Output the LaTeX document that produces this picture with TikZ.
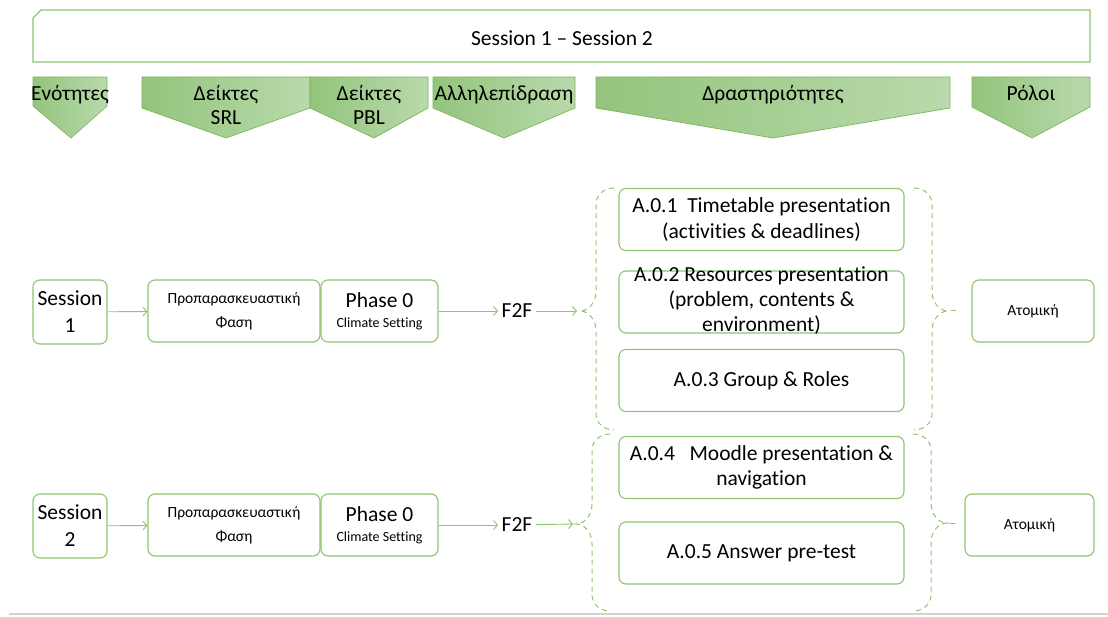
\documentclass[tikz,border=0pt]{standalone}
\usepackage{fontspec}
\setmainfont{Carlito}[Ligatures={NoCommon}]
\usetikzlibrary{arrows.meta}

\definecolor{edge}{HTML}{8CC56E}
\definecolor{hdrA}{HTML}{93C47D}
\definecolor{hdrB}{HTML}{B9DAAB}
\definecolor{hdrline}{HTML}{7DB55E}
\definecolor{rule}{HTML}{D2D2D2}

% header pentagon: x-left, x-right, y where the sides end, x of the tip, name, text
\newcommand\hdrshape[6]{%
  \path[draw=hdrline, line width=0.7pt, left color=hdrA, right color=hdrB]
    (#1,77) -- (#2,77) -- (#2,#3) -- (#4,138) -- (#1,#3) -- cycle;
  \node[hdrtext] (#5) at ({(#1+#2)/2},85) {#6};}

% dashed curly brace: spine x, side (1 = hooks to the right, -1 = hooks to the left),
% top y, tip y, bottom y
\newcommand\bracepath[5]{%
  \draw[brace] ({#1+#2*18},#3) .. controls ({#1+#2*8},#3) and (#1,{#3+7}) .. (#1,{#3+16})
    -- (#1,{#4-20}) .. controls (#1,{#4-9}) and ({#1-#2*7},#4) .. ({#1-#2*16},#4)
    .. controls ({#1-#2*7},#4) and (#1,{#4+9}) .. (#1,{#4+20})
    -- (#1,{#5-16}) .. controls (#1,{#5-7}) and ({#1+#2*8},#5) .. ({#1+#2*18},#5);}

% small caption font for the phase boxes
\newcommand\captionsize{\fontsize{14}{15}\selectfont}

\begin{document}
\begin{tikzpicture}[x=1pt, y=-1pt,
  font=\fontsize{21.5}{25}\selectfont,
  box/.style={draw=edge, line width=1.1pt, rounded corners=7pt, align=center, inner sep=0pt},
  hdrtext/.style={anchor=north, align=center, inner sep=0pt, font=\fontsize{21.5}{24}\selectfont},
  smalltext/.style={font=\fontsize{15.5}{24}\selectfont},
  link/.style={draw=edge, line width=0.9pt, -{Straight Barb[length=4pt,width=9pt]}},
  brace/.style={draw=edge, line width=1pt, dash pattern=on 5pt off 4pt}]
\useasboundingbox (0,0) rectangle (1108,617);

% title bar
\draw[edge, line width=1.1pt] (33,18) -- (41,10) -- (1090,10) -- (1090,62) -- (33,62) -- cycle;
\node (title) at (562,38) {Session 1 – Session 2};

% column headers
\hdrshape{33}{107}{106}{71}{hunits}{Ενότητες}
\hdrshape{142}{310}{108}{226}{hsrl}{Δείκτες\\SRL}
\hdrshape{310}{428}{108}{374}{hpbl}{Δείκτες\\PBL}
\hdrshape{433}{575}{108}{504}{hinter}{Αλληλεπίδραση}
\hdrshape{596}{950}{108}{773}{hacts}{Δραστηριότητες}
\hdrshape{972}{1090}{107}{1032}{hroles}{Ρόλοι}

% session 1
\node[box, minimum width=74pt, minimum height=64pt, font=\fontsize{21.5}{27}\selectfont] (s1) at (70,312) {Session\\1};
\node[box, minimum width=172pt, minimum height=62pt, smalltext] (p1) at (234,311) {Προπαρασκευαστική\\Φαση};
\node[box, minimum width=117pt, minimum height=62pt] (ph1) at (379.5,311) {Phase 0\\[-5pt]{\captionsize Climate Setting}};
\node (f1) at (517,311) {F2F};
\coordinate (bl1) at (577,311);

% session 2
\node[box, minimum width=74pt, minimum height=64pt, font=\fontsize{21.5}{27}\selectfont] (s2) at (70,526) {Session\\2};
\node[box, minimum width=172pt, minimum height=62pt, smalltext] (p2) at (234,525) {Προπαρασκευαστική\\Φαση};
\node[box, minimum width=117pt, minimum height=62pt] (ph2) at (379.5,525) {Phase 0\\[-5pt]{\captionsize Climate Setting}};
\node (f2) at (517,525) {F2F};
\coordinate (bl2) at (573,524);

% activities
\node[box, minimum width=285pt, minimum height=62pt, font=\fontsize{21.5}{26}\selectfont] (a1) at (761.5,219.5) {A.0.1\ \ Timetable presentation\\(activities \& deadlines)};
\node[box, minimum width=285pt, minimum height=62pt] (a2) at (761.5,302) {};
\node[align=center, inner sep=0pt] (a2t) at (761.5,301) {A.0.2 Resources presentation\\(problem, contents \&\\environment)};
\node[box, minimum width=285pt, minimum height=62pt] (a3) at (761.5,380.5) {A.0.3 Group \& Roles};
\node[box, minimum width=285pt, minimum height=62pt] (a4) at (761.5,467.5) {A.0.4\ \ \ Moodle presentation \&\\navigation};
\node[box, minimum width=285pt, minimum height=62pt] (a5) at (761.5,553) {A.0.5 Answer pre-test};

% roles
\node[box, minimum width=122pt, minimum height=62pt, smalltext] (r1) at (1033,311) {Ατομική};
\node[box, minimum width=129pt, minimum height=62pt, smalltext] (r2) at (1029.5,525) {Ατομική};

% connectors
\draw[link] (s1) -- (p1);
\draw[link] (ph1) -- (f1);
\draw[link] (f1) -- (bl1);
\draw[link] (s2) -- (p2);
\draw[link] (ph2) -- (f2);
\draw[link] (f2) -- (bl2);

% braces around the activity groups
\bracepath{596}{1}{188}{311}{430}
\bracepath{932}{-1}{188}{311}{430}
\draw[brace] (951,311) -- (956,311);
\bracepath{592}{1}{434}{524}{611}
\bracepath{931}{-1}{434}{523}{611}
\draw[brace] (950,523) -- (955,523);

% bottom rule
\draw[rule, line width=2pt] (9,614) -- (1108,614);
\end{tikzpicture}
\end{document}
